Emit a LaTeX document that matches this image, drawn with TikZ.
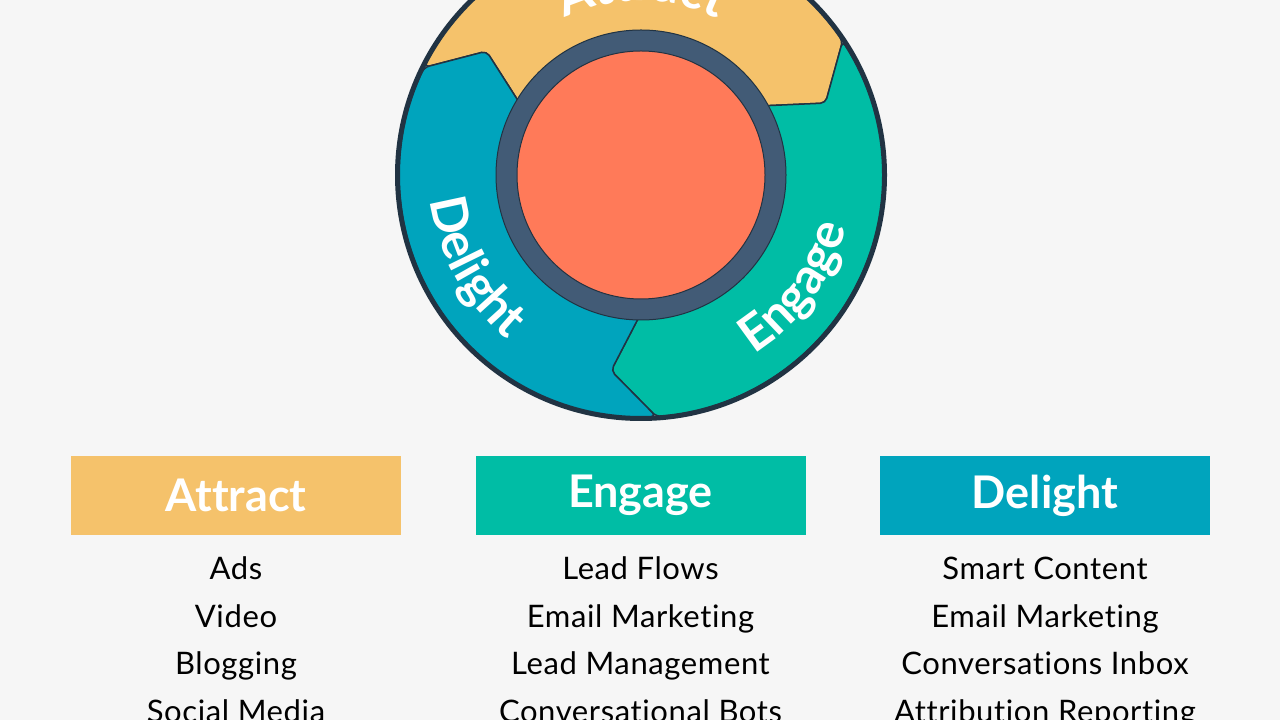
\documentclass[tikz,border=0pt]{standalone}
\usepackage{fontspec}
\setmainfont{Lato}[Ligatures=NoCommon]
\newfontfamily\listfamily{Lato}[Ligatures=NoCommon, LetterSpace=2]
\newfontfamily\wheelfamily{Lato}[Ligatures=NoCommon, LetterSpace=5]
\usetikzlibrary{decorations.text}
\definecolor{bgcol}{HTML}{F6F6F6}
\definecolor{attractcol}{HTML}{F5C26B}
\definecolor{engagecol}{HTML}{00BDA5}
\definecolor{delightcol}{HTML}{00A4BD}
\definecolor{hubcol}{HTML}{FF7A59}
\definecolor{ringcol}{HTML}{425B76}
\definecolor{rimcol}{HTML}{213343}
\newcommand\wheelfont{\wheelfamily\fontsize{50}{54}\selectfont\bfseries}
\tikzset{
  headbox/.style={minimum width=330, minimum height=79, inner sep=0, text=white, font=\fontsize{45}{50}\selectfont\bfseries},
  listitem/.style={anchor=base, text=black, font=\listfamily\fontsize{31}{36}\selectfont},
  segment/.style={draw=rimcol, line width=1.5, rounded corners=5},
  wheeltext/.style={decorate, decoration={text along path, text align=center, text color=white, text={|\wheelfont|#1}}}
}

\begin{document}
\begin{tikzpicture}[x=1pt, y=1pt]
\useasboundingbox (0,0) rectangle (1280,720);
\fill [bgcol] (0,0) rectangle (1280,720);
\clip (0,0) rectangle (1280,720);
\begin{scope}[shift={(641,545)}]
  \foreach \col/\h in {attractcol/33.6, engagecol/-86.4, delightcol/153.6}
    \draw [segment, fill=\col] ({\h+120}:242) arc [start angle={\h+120}, end angle=\h, radius=242]
      -- ({\h-12.3}:198) -- ({\h-4}:140) arc [start angle={\h-4}, end angle={\h+116}, radius=140]
      -- ({\h+107.7}:198) -- cycle;
  \draw [rimcol, line width=5] (0,0) circle (243.5);
  \draw [rimcol, line width=1, fill=ringcol] (0,0) circle (145);
  \draw [rimcol, line width=1, fill=hubcol] (0,0) circle (124);
  \path [wheeltext=Attract] (150:174) arc [start angle=150, end angle=30, radius=174];
  \path [wheeltext=Delight] (159:212) arc [start angle=159, end angle=259, radius=212];
  \path [wheeltext=Engage] (-87:212) arc [start angle=-87, end angle=15, radius=212];
\end{scope}

\node [headbox, fill=attractcol] (attracthead) at (236,224.5) {Attract};
\node [headbox, fill=engagecol] (engagehead) at (640.5,224.5) {Engage};
\node [headbox, fill=delightcol] (delighthead) at (1045,224.5) {Delight};

\foreach \t [count=\i] in {Ads, Video, Blogging, Social Media}
  \node [listitem] (attract\i) at (236,187.5-47.5*\i) {\t};
\foreach \t [count=\i] in {Lead Flows, Email Marketing, Lead Management, Conversational Bots}
  \node [listitem] (engage\i) at (640.5,187.5-47.5*\i) {\t};
\foreach \t [count=\i] in {Smart Content, Email Marketing, Conversations Inbox, Attribution Reporting}
  \node [listitem] (delight\i) at (1045,187.5-47.5*\i) {\t};
\end{tikzpicture}
\end{document}
